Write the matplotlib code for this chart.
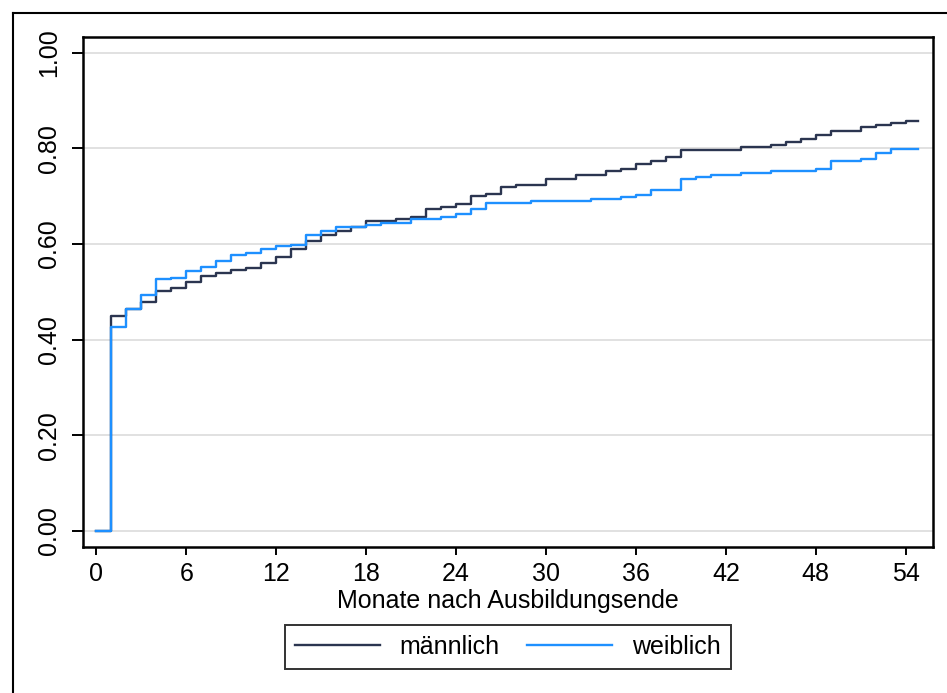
import matplotlib
matplotlib.use("Agg")
import matplotlib.pyplot as plt
from matplotlib.lines import Line2D
import numpy as np

# ---- data ----
months = list(range(0, 55))
end_month = 54.8
male = [0.000, 0.450, 0.464, 0.479, 0.502, 0.509, 0.521, 0.533, 0.540, 0.546,
        0.550, 0.561, 0.572, 0.590, 0.606, 0.619, 0.627, 0.636, 0.648, 0.648,
        0.652, 0.657, 0.674, 0.678, 0.683, 0.700, 0.704, 0.720, 0.723, 0.723,
        0.736, 0.736, 0.744, 0.744, 0.753, 0.757, 0.768, 0.774, 0.783, 0.797,
        0.797, 0.797, 0.797, 0.804, 0.804, 0.808, 0.813, 0.820, 0.829, 0.837,
        0.837, 0.845, 0.850, 0.854, 0.858]
female = [0.000, 0.426, 0.464, 0.493, 0.526, 0.530, 0.544, 0.553, 0.565, 0.578,
          0.581, 0.589, 0.595, 0.597, 0.619, 0.627, 0.636, 0.636, 0.640, 0.645,
          0.645, 0.652, 0.652, 0.657, 0.662, 0.673, 0.686, 0.686, 0.686, 0.690,
          0.690, 0.690, 0.690, 0.694, 0.694, 0.699, 0.703, 0.713, 0.713, 0.737,
          0.741, 0.744, 0.744, 0.749, 0.749, 0.753, 0.753, 0.753, 0.757, 0.774,
          0.774, 0.778, 0.791, 0.799, 0.799]
series_labels = ["männlich", "weiblich"]
xticks = list(range(0, 55, 6))
yticks = [0.0, 0.2, 0.4, 0.6, 0.8, 1.0]
xlabel = "Monate nach Ausbildungsende"

plt.rcParams['font.family'] = ['Liberation Sans', 'DejaVu Sans']

W, H = 947, 693
fig = plt.figure(figsize=(W / 100, H / 100), dpi=100)
fig.patch.set_facecolor("white")

L, R, T, B = 83, 933, 37, 547
ax = fig.add_axes([L / W, 1 - B / H, (R - L) / W, (B - T) / H])

c_male = "#2b3550"
c_fem = "#1e90ff"

x = months + [end_month]
ax.plot(x, male + [male[-1]], drawstyle="steps-post", color=c_male, lw=1.7,
        label=series_labels[0], zorder=3)
ax.plot(x, female + [female[-1]], drawstyle="steps-post", color=c_fem, lw=1.7,
        label=series_labels[1], zorder=4)

ax.set_xlim(-0.90, 55.82)
ax.set_ylim(-0.0335, 1.033)
ax.set_xticks(xticks)
ax.set_yticks(yticks)
ax.set_yticklabels([f"{v:.2f}" for v in yticks])
ax.grid(axis="y", color="#dcdcdc", lw=1.2, zorder=0)
ax.set_axisbelow(True)

for s in ax.spines.values():
    s.set_linewidth(1.8)
    s.set_color("black")

fs = 18
ax.tick_params(axis="x", length=6, width=1.4, pad=5, labelsize=fs)
ax.tick_params(axis="y", length=8, width=1.4, pad=8, labelsize=fs,
               labelrotation=90)
for lab in ax.get_yticklabels():
    lab.set_va("center")

ax.set_xlabel(xlabel, fontsize=fs, labelpad=2)

leg = ax.legend(loc="center", bbox_to_anchor=(0.5, (B - 646.5) / (B - T)),
                ncol=2, fontsize=fs, frameon=True, fancybox=False,
                edgecolor="black", handlelength=3.4, handletextpad=0.8,
                columnspacing=1.1, borderpad=0.4, borderaxespad=0)
leg.get_frame().set_linewidth(1.4)
for h in leg.get_lines():
    h.set_linewidth(1.7)

# outer graph-region border (left and top visible)
fig.add_artist(Line2D([13 / W, 13 / W], [0, 1 - 13 / H], color="black", lw=1.5,
                      transform=fig.transFigure))
fig.add_artist(Line2D([13 / W, 1], [1 - 13 / H, 1 - 13 / H], color="black", lw=1.5,
                      transform=fig.transFigure))

fig.savefig("out.png", dpi=100)
